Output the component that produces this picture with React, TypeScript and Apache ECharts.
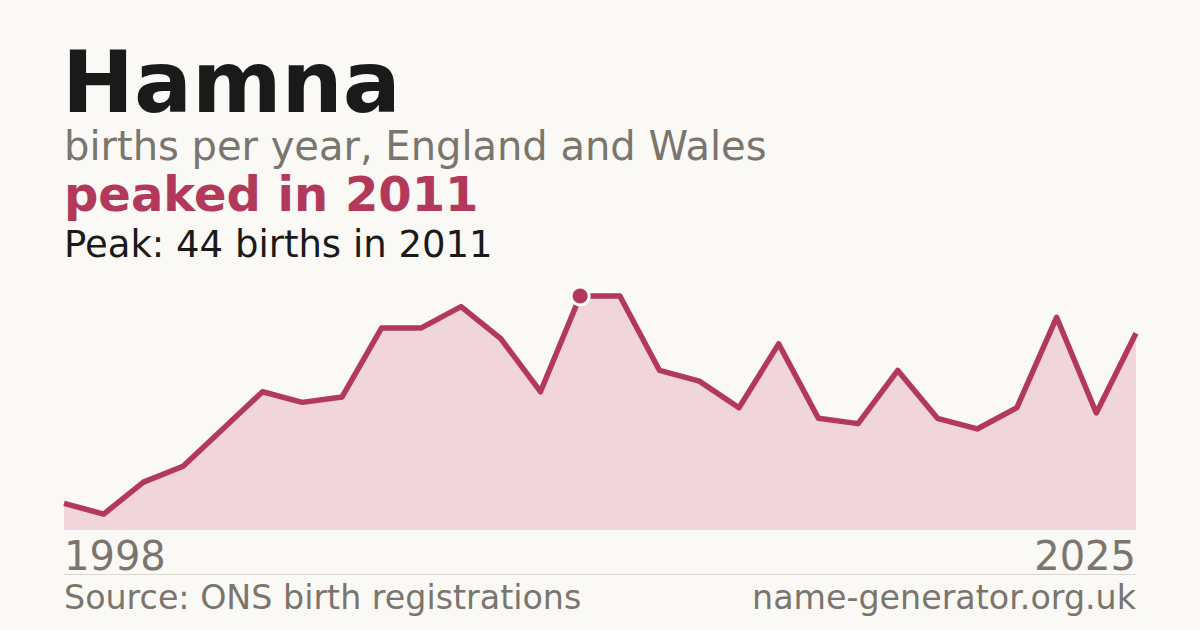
import { useEffect, useRef } from "react";
import * as echarts from "echarts";

const years = [
  "1998", "1999", "2000", "2001", "2002", "2003", "2004", "2005", "2006", "2007",
  "2008", "2009", "2010", "2011", "2012", "2013", "2014", "2015", "2016", "2017",
  "2018", "2019", "2020", "2021", "2022", "2023", "2024", "2025",
];
const births = [
  5, 3, 9, 12, 19, 26, 24, 25, 38, 38,
  42, 36, 26, 44, 44, 30, 28, 23, 35, 21,
  20, 30, 21, 19, 23, 40, 22, 37,
];

const name = "Hamna";
const subtitle = "births per year, England and Wales";
const headline = "peaked in 2011";
const peakNote = "Peak: 44 births in 2011";
const source = "Source: ONS birth registrations";
const site = "name-generator.org.uk";

const RED = "#b3395a";
const GREY = "#7a756d";
const FONT = "'DejaVu Sans', sans-serif";

export default function App() {
  const chartRef = useRef<HTMLDivElement>(null);

  useEffect(() => {
    document.body.style.margin = "0";
    if (!chartRef.current) return;
    const chart = echarts.init(chartRef.current, null, { renderer: "svg" });

    // 峰值位置（第一次出现的最大值）
    const peakVal = Math.max(...births);
    const peakIdx = births.indexOf(peakVal);
    const last = years.length - 1;

    const option: echarts.EChartsOption = {
      animation: false,
      backgroundColor: "#faf9f5",
      grid: { left: 64, right: 64, top: 296, height: 234 },
      xAxis: {
        type: "category",
        data: years,
        boundaryGap: false,
        axisLine: { show: false },
        axisTick: { show: false },
        splitLine: { show: false },
        axisLabel: {
          interval: (i: number) => i === 0 || i === last,
          color: GREY,
          fontFamily: FONT,
          fontSize: 40,
          margin: 6,
          alignMinLabel: "left",
          alignMaxLabel: "right",
        } as any,
      },
      yAxis: {
        type: "value",
        min: 0,
        max: peakVal,
        show: false,
      },
      series: [
        {
          type: "line",
          data: births,
          showSymbol: false,
          clip: false,
          lineStyle: { color: RED, width: 5.5, join: "round" } as any,
          areaStyle: { color: "#f0d5da", opacity: 1 },
          z: 2,
        },
        {
          type: "scatter",
          data: [[peakIdx, peakVal]],
          symbol: "circle",
          symbolSize: 18,
          clip: false,
          itemStyle: { color: RED, opacity: 1, borderColor: "#ffffff", borderWidth: 3 },
          z: 3,
        },
      ],
      graphic: [
        {
          type: "text",
          left: 62,
          top: 39,
          style: { text: name, font: `bold 86px ${FONT}`, fill: "#1a1a1a" },
        },
        {
          type: "text",
          left: 64,
          top: 126,
          style: { text: subtitle, font: `40px ${FONT}`, fill: GREY },
        },
        {
          type: "text",
          left: 64,
          top: 170,
          style: { text: headline, font: `bold 48px ${FONT}`, lineHeight: 44, fill: RED },
        },
        {
          type: "text",
          left: 64,
          top: 226,
          style: { text: peakNote, font: `37px ${FONT}`, lineHeight: 34, fill: "#1a1a1a" },
        },
        {
          type: "line",
          shape: { x1: 64, y1: 574.5, x2: 1136, y2: 574.5 },
          style: { stroke: "#dcd9d2", lineWidth: 1 },
        },
        {
          type: "text",
          left: 64,
          top: 581,
          style: { text: source, font: `33.3px ${FONT}`, fill: GREY },
        },
        {
          type: "text",
          right: 64,
          top: 581,
          style: { text: site, font: `33.3px ${FONT}`, fill: GREY },
        },
      ],
    };

    chart.setOption(option);
    return () => {
      chart.dispose();
    };
  }, []);

  return <div ref={chartRef} style={{ width: 1200, height: 630 }} />;
}
